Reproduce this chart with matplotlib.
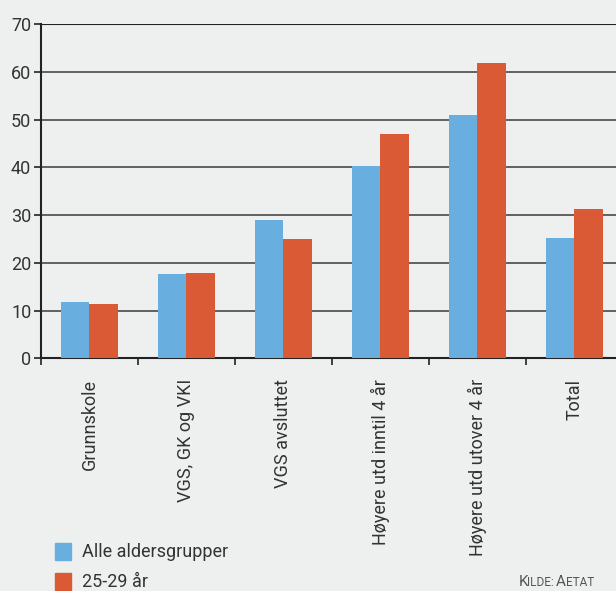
import numpy as np
import matplotlib
matplotlib.use("Agg")
import matplotlib.pyplot as plt
from matplotlib.patches import Rectangle

plt.rcParams['font.family'] = ['Liberation Sans Narrow', 'Roboto', 'DejaVu Sans']

categories = ["Grunnskole", "VGS, GK og VKI", "VGS avsluttet",
              "Høyere utd inntil 4 år", "Høyere utd utover 4 år", "Total"]
alle = [11.8, 17.7, 29.0, 40.3, 50.9, 25.2]
unge = [11.4, 17.9, 24.9, 47.0, 61.8, 31.2]
series_names = ["Alle aldersgrupper", "25-29 år"]
yticks = [0, 10, 20, 30, 40, 50, 60, 70]

bg = "#eef0ef"
blue = "#68aede"
orange = "#da5a36"

fig = plt.figure(figsize=(6.16, 5.91), dpi=100, facecolor=bg)
ax = fig.add_axes([41 / 616, 1 - 358.3 / 591, 582 / 616, (358.3 - 24) / 591])
ax.set_facecolor(bg)

x = np.arange(len(categories))
w = 0.289
ax.bar(x - w / 2, alle, w, color=blue, zorder=3)
ax.bar(x + w / 2, unge, w, color=orange, zorder=3)

ax.set_xlim(-0.5, len(categories) - 0.5)
ax.set_ylim(0, 70)
ax.set_yticks(yticks)
ax.yaxis.grid(True, color="#555555", linewidth=1.3, zorder=1)
ax.axhline(70, color="#222222", linewidth=1.5, zorder=2)

for side in ["top", "right"]:
    ax.spines[side].set_visible(False)
for side in ["left", "bottom"]:
    ax.spines[side].set_color("#222222")
    ax.spines[side].set_linewidth(1.5)

ax.tick_params(axis="y", length=5, width=1.2, color="#222222",
               labelsize=13, labelcolor="#333333", pad=2)
ax.set_xticks(np.arange(len(categories) + 1) - 0.5, minor=False)
ax.set_xticklabels([])
ax.tick_params(axis="x", length=5, width=1.2, color="#222222")
for i, name in enumerate(categories):
    ax.text(i, -4.3, name, rotation=90, ha="center", va="top",
            fontsize=13, color="#333333")

# legend drawn by hand in figure pixels
for k, (name, col) in enumerate(zip(series_names, [blue, orange])):
    y0 = 543 + 30 * k
    fig.patches.append(Rectangle((55 / 616, 1 - (y0 + 17) / 591), 16 / 616, 17 / 591,
                                 transform=fig.transFigure, color=col))
    fig.text(82 / 616, 1 - (y0 + 9) / 591, name, va="center", ha="left",
             fontsize=13, color="#333333")

# source line in small caps
src_y = 1 - 586 / 591
fig.text(519 / 616, src_y, "K", fontsize=11, color="#555555",
         ha="left", va="baseline")
fig.text(527 / 616, src_y, "ILDE:", fontsize=8.5, color="#555555",
         ha="left", va="baseline")
fig.text(556 / 616, src_y, "A", fontsize=11, color="#555555",
         ha="left", va="baseline")
fig.text(566 / 616, src_y, "ETAT", fontsize=8.5, color="#555555",
         ha="left", va="baseline")

fig.savefig("out.png", dpi=100, facecolor=bg)
